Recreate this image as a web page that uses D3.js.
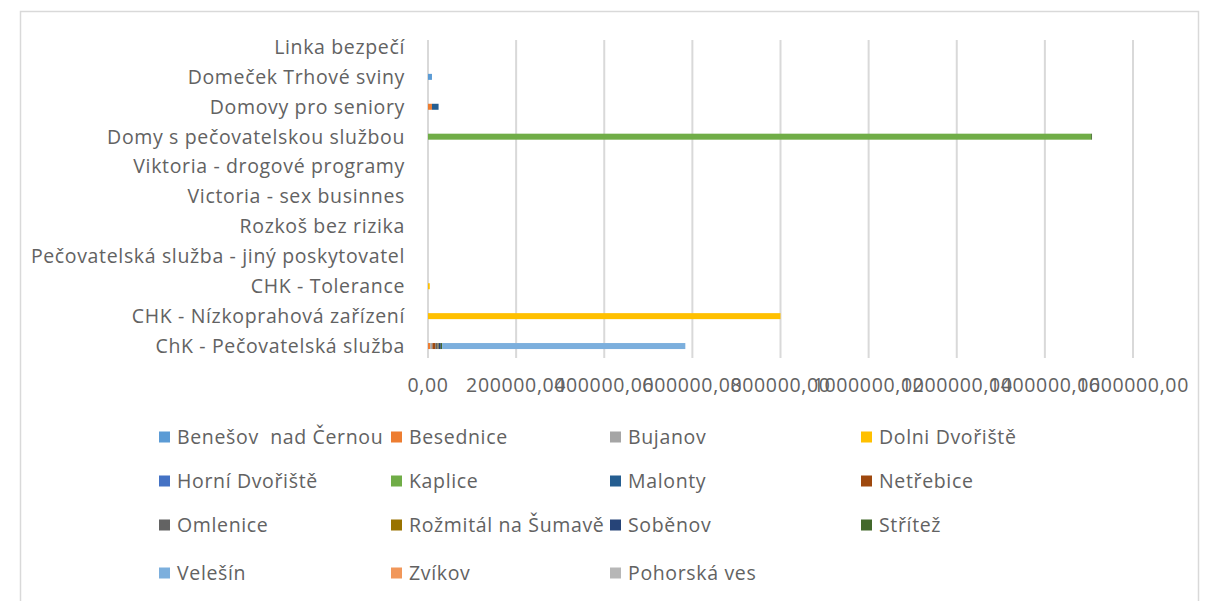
<!DOCTYPE html>
<html>
<head>
<meta charset="utf-8">
<script src="https://cdn.jsdelivr.net/npm/d3@7"></script>
<style>
  body { margin: 0; background: #fff; }
  text { font-family: "Open Sans", sans-serif; fill: #626262; letter-spacing: 0.65px; }
</style>
</head>
<body>
<svg width="1210" height="601"></svg>
<script>
// categories, bottom to top as in the chart
var categories = [
  "ChK - Pečovatelská služba",
  "CHK - Nízkoprahová zařízení",
  "CHK - Tolerance",
  "Pečovatelská služba - jiný poskytovatel",
  "Rozkoš bez rizika",
  "Victoria - sex businnes",
  "Viktoria - drogové programy",
  "Domy s pečovatelskou službou ",
  "Domovy pro seniory",
  "Domeček Trhové sviny",
  "Linka bezpečí"
];

var seriesNames = ["Benešov  nad Černou", "Besednice", "Bujanov", "Dolni Dvořiště",
  "Horní Dvořiště", "Kaplice", "Malonty", "Netřebice", "Omlenice", "Rožmitál na Šumavě",
  "Soběnov", "Střítež", "Velešín", "Zvíkov", "Pohorská ves"];

var seriesColors = ["#5B9BD5", "#ED7D31", "#A5A5A5", "#FFC000", "#4472C4", "#70AD47",
  "#255E91", "#9E480E", "#636363", "#997300", "#264478", "#43682B", "#7CAFDD", "#F1975A", "#B7B7B7"];

// values per series, same order as categories
var benesov   = [0, 0, 0, 0, 0, 0, 0, 0, 0, 9000, 0];
var besednice = [5000, 0, 0, 0, 0, 0, 0, 0, 9000, 0, 0];
var bujanov   = [5000, 0, 0, 0, 0, 0, 0, 0, 0, 0, 0];
var dolni     = [0, 800000, 4000, 0, 0, 0, 0, 0, 0, 0, 0];
var horni     = [0, 0, 0, 0, 0, 0, 0, 0, 0, 0, 0];
var kaplice   = [0, 0, 0, 0, 0, 0, 0, 1505000, 0, 0, 0];
var malonty   = [0, 0, 0, 0, 0, 0, 0, 0, 15000, 0, 0];
var netrebice = [7000, 0, 0, 0, 0, 0, 0, 0, 0, 0, 0];
var omlenice  = [5000, 0, 0, 0, 0, 0, 0, 0, 0, 0, 0];
var rozmital  = [2000, 0, 0, 0, 0, 0, 0, 0, 0, 0, 0];
var sobenov   = [5000, 0, 0, 0, 0, 0, 0, 0, 0, 0, 0];
var stritez   = [3000, 0, 0, 0, 0, 0, 0, 2000, 0, 0, 0];
var velesin   = [552000, 0, 0, 0, 0, 0, 0, 0, 0, 0, 0];
var zvikov    = [0, 0, 0, 0, 0, 0, 0, 0, 0, 0, 0];
var pohorska  = [0, 0, 0, 0, 0, 0, 0, 0, 0, 0, 0];

var seriesValues = [benesov, besednice, bujanov, dolni, horni, kaplice, malonty,
  netrebice, omlenice, rozmital, sobenov, stritez, velesin, zvikov, pohorska];

var tickValues = [0, 200000, 400000, 600000, 800000, 1000000, 1200000, 1400000, 1600000];

var svg = d3.select("svg");

// chart border
svg.append("rect")
    .attr("x", 20.5).attr("y", 11.5)
    .attr("width", 1178).attr("height", 620)
    .attr("fill", "none")
    .attr("stroke", "#d9d9d9")
    .attr("stroke-width", 1.5);

var x = d3.scaleLinear()
    .domain([0, 1600000])
    .range([428, 1133]);

var y = d3.scaleBand()
    .domain(categories.slice().reverse())
    .range([32, 361]);

// gridlines
svg.append("g")
  .selectAll("line")
  .data(tickValues)
  .enter().append("line")
    .attr("x1", function(d) { return x(d); })
    .attr("x2", function(d) { return x(d); })
    .attr("y1", 40)
    .attr("y2", 358)
    .attr("stroke", "#d9d9d9")
    .attr("stroke-width", 2);

// stack the series
var rows = categories.map(function(c, i) {
  var r = { cat: c };
  seriesNames.forEach(function(s, j) { r[s] = seriesValues[j][i]; });
  return r;
});
var stack = d3.stack().keys(seriesNames)(rows);

var barH = 6;
svg.append("g")
  .selectAll("g")
  .data(stack)
  .enter().append("g")
    .attr("fill", function(d, i) { return seriesColors[i]; })
  .selectAll("rect")
  .data(function(d) { return d.filter(function(p) { return p[1] - p[0] > 0; }); })
  .enter().append("rect")
    .attr("x", function(d) { return x(d[0]); })
    .attr("width", function(d) { return x(d[1]) - x(d[0]); })
    .attr("y", function(d) { return y(d.data.cat) + y.bandwidth() / 2 - barH / 2; })
    .attr("height", barH);

// category labels
svg.append("g")
  .selectAll("text")
  .data(categories)
  .enter().append("text")
    .attr("x", 405)
    .attr("y", function(d) { return y(d) + y.bandwidth() / 2; })
    .attr("dy", "0.35em")
    .attr("text-anchor", "end")
    .attr("font-size", 19.5)
    .text(function(d) { return d; });

// axis tick labels
svg.append("g")
  .selectAll("text")
  .data(tickValues)
  .enter().append("text")
    .attr("x", function(d) { return x(d); })
    .attr("y", 385)
    .attr("dy", "0.35em")
    .attr("text-anchor", "middle")
    .attr("font-size", 19.5)
    .text(function(d) { return d + ",00"; });

// legend
var legX = [159, 391, 610, 861];
var legY = [437, 481, 525, 573];
var leg = svg.append("g")
  .selectAll("g")
  .data(seriesNames)
  .enter().append("g")
    .attr("transform", function(d, i) { return "translate(" + legX[i % 4] + "," + legY[Math.floor(i / 4)] + ")"; });

leg.append("rect")
    .attr("x", 0).attr("y", -5.5)
    .attr("width", 11).attr("height", 11)
    .attr("fill", function(d, i) { return seriesColors[i]; });

leg.append("text")
    .attr("x", 18)
    .attr("dy", "0.35em")
    .attr("font-size", 19.5)
    .style("white-space", "pre")
    .text(function(d) { return d; });
</script>
</body>
</html>
